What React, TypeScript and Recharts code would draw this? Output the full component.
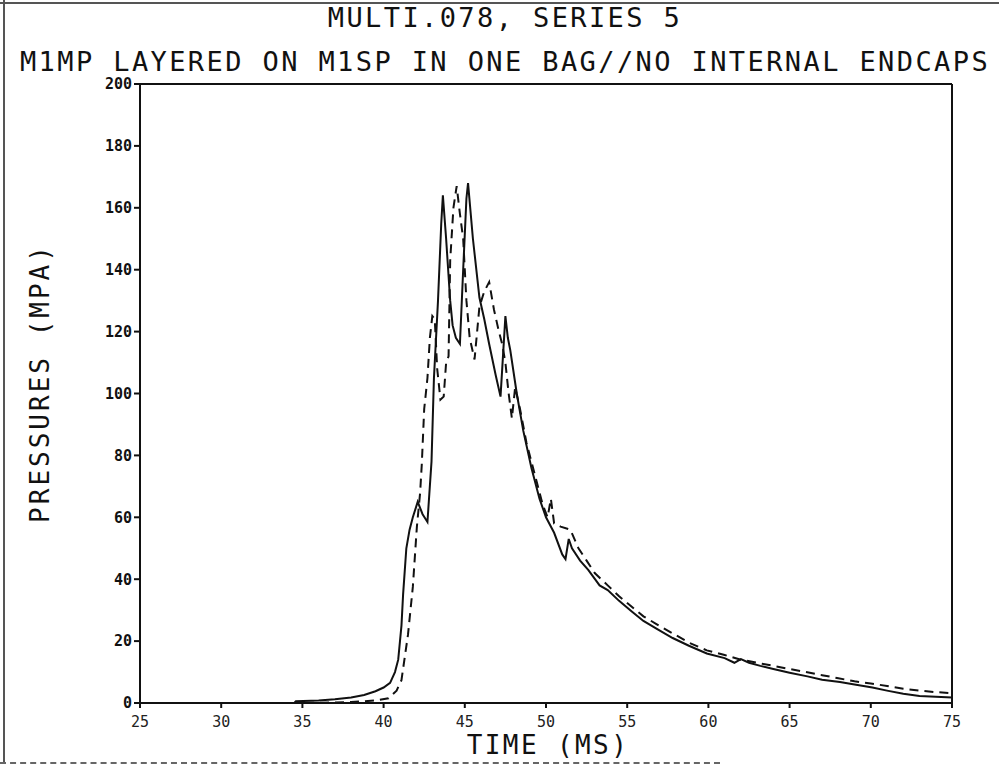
import { LineChart, Line, XAxis, YAxis, ReferenceLine } from 'recharts';

// time in ms, pressure in MPa
const solidTime = [
  25, 30, 34.5, 34.6, 36, 37, 38, 38.8, 39.5, 40, 40.4, 40.7, 40.9, 41.1, 41.2, 41.4, 41.6, 41.8, 42.1, 42.4,
  42.7, 42.95, 43.1, 43.35, 43.55, 43.65, 43.85, 44.1, 44.25, 44.45, 44.7, 44.9, 45.1, 45.2, 45.5, 45.9, 46.2,
  46.5, 46.9, 47.2, 47.5, 47.65, 47.8, 48.2, 48.6, 49.1, 49.6, 50, 50.5, 51, 51.2, 51.4, 51.6, 52.1, 52.6, 53.3,
  53.8, 54.5, 55.3, 56, 56.8, 57.8, 58.8, 59.9, 61, 61.6, 62, 62.5, 63.2, 64, 65, 66.1, 67, 68.1, 69, 70.1, 71,
  72, 73, 74, 75,
];
const solidPressure = [
  0, 0, 0, 0.6, 0.8, 1.2, 1.8, 2.6, 3.8, 5, 6.5, 10, 14, 25, 35, 50, 56, 60, 65, 61,
  58.5, 78, 105, 130, 155, 164, 150, 130, 122, 118, 116, 140, 163, 168, 150, 131, 124,
  116, 106, 99, 125, 118, 114, 100, 88, 76, 66, 60, 55, 48, 46.5, 53, 50, 46, 43, 38,
  36.5, 33, 29.5, 26.5, 24, 21, 18.5, 16, 14.5, 13, 14.2, 13, 12, 11, 9.8, 8.6, 7.5, 6.8, 6, 5, 4,
  3, 2.3, 2, 1.8,
];

const dashedTime = [
  25, 35, 38, 39.5, 40.3, 40.8, 41.1, 41.5, 41.8, 42.05, 42.25, 42.35, 42.5, 42.7, 42.85, 43, 43.15, 43.3, 43.5,
  43.7, 43.85, 44, 44.1, 44.3, 44.5, 44.7, 44.9, 45.1, 45.3, 45.6, 45.9, 46.2, 46.5, 46.8, 47.1, 47.3, 47.5, 47.7,
  47.9, 48.1, 48.4, 48.8, 49.3, 49.8, 50.1, 50.3, 50.5, 50.9, 51.5, 52, 52.5, 53, 53.8, 54.5, 55.3, 56, 56.8, 57.8,
  58.8, 59.9, 61, 62, 63, 64, 65, 66, 67, 68, 69, 70, 71, 72, 73, 74, 75,
];
const dashedPressure = [
  0, 0, 0.3, 0.8, 1.5, 4, 7.4, 22, 37.5, 57, 68, 77, 95, 105, 118, 125, 124, 108, 98,
  99, 110, 112, 143, 160, 167, 158, 150, 130, 118, 111, 128, 133, 136, 127, 120, 116, 110, 100,
  92, 102, 95, 84, 74, 64, 60, 66, 58, 57, 56, 50, 46, 42, 38, 34.5, 31, 28, 25.5, 22.5,
  19.5, 17, 15.5, 14, 13, 12, 11, 10, 9, 8, 7, 6.3, 5.5, 4.6, 4, 3.5, 3.2,
];

const xTicks = [25, 30, 35, 40, 45, 50, 55, 60, 65, 70, 75];
const yTicks = [0, 20, 40, 60, 80, 100, 120, 140, 160, 180, 200];

const toPoints = (ts: number[], ps: number[]) => ts.map((t, i) => ({ t, p: ps[i] }));

const solidData = toPoints(solidTime, solidPressure);
const dashedData = toPoints(dashedTime, dashedPressure);

const FONT = '"DejaVu Sans Mono", monospace';

export default function App() {
  return (
    <div style={{ position: 'absolute', left: 0, top: 0, width: 999, height: 773, background: '#fff', overflow: 'hidden', fontFamily: FONT }}>
      {/* scanned page edges */}
      <div style={{ position: 'absolute', left: 0, top: 2, width: 999, height: 0, borderTop: '2px solid #555' }} />
      <div style={{ position: 'absolute', left: 3, top: 0, width: 0, height: 763, borderLeft: '2px solid #555' }} />
      <div style={{ position: 'absolute', left: 0, top: 762, width: 720, height: 0, borderTop: '2px dashed #666' }} />

      <div style={{ position: 'absolute', left: 0, top: 2, width: 1010, textAlign: 'center', fontSize: 27, letterSpacing: 2.4, color: '#111' }}>
        MULTI.078, SERIES 5
      </div>
      <div style={{ position: 'absolute', left: 0, top: 46, width: 1010, textAlign: 'center', fontSize: 27, letterSpacing: 2.4, color: '#111' }}>
        M1MP LAYERED ON M1SP IN ONE BAG//NO INTERNAL ENDCAPS
      </div>
      <div style={{ position: 'absolute', left: 368, top: 730, width: 360, textAlign: 'center', fontSize: 26, letterSpacing: 2.4, color: '#111' }}>
        TIME (MS)
      </div>
      <div style={{ position: 'absolute', left: 40 - 200, top: 383 - 16, width: 400, textAlign: 'center', fontSize: 26, letterSpacing: 3, color: '#111', transform: 'rotate(-90deg)', lineHeight: '32px' }}>
        PRESSURES (MPA)
      </div>

      <div style={{ position: 'absolute', left: 0, top: 0 }}>
        <LineChart width={999} height={773} margin={{ top: 84, right: 47, bottom: 0, left: 80 }}>
          <XAxis
            dataKey="t"
            type="number"
            domain={[25, 75]}
            ticks={xTicks}
            allowDataOverflow
            height={70}
            stroke="#111"
            strokeWidth={2}
            tickSize={5}
            tick={{ fontSize: 15, fill: '#222', fontFamily: FONT, dy: 6 }}
          />
          <YAxis
            dataKey="p"
            type="number"
            domain={[0, 200]}
            ticks={yTicks}
            allowDataOverflow
            width={60}
            stroke="#111"
            strokeWidth={2}
            tickSize={6}
            tick={{ fontSize: 15, fill: '#111', fontFamily: FONT, fontWeight: 'bold' }}
          />
          <ReferenceLine y={200} stroke="#111" strokeWidth={2} />
          <ReferenceLine x={75} stroke="#111" strokeWidth={2} />
          <Line data={solidData} dataKey="p" type="linear" stroke="#111" strokeWidth={2} dot={false} isAnimationActive={false} />
          <Line data={dashedData} dataKey="p" type="linear" stroke="#111" strokeWidth={2} strokeDasharray="9 6" dot={false} isAnimationActive={false} />
        </LineChart>
      </div>
    </div>
  );
}
